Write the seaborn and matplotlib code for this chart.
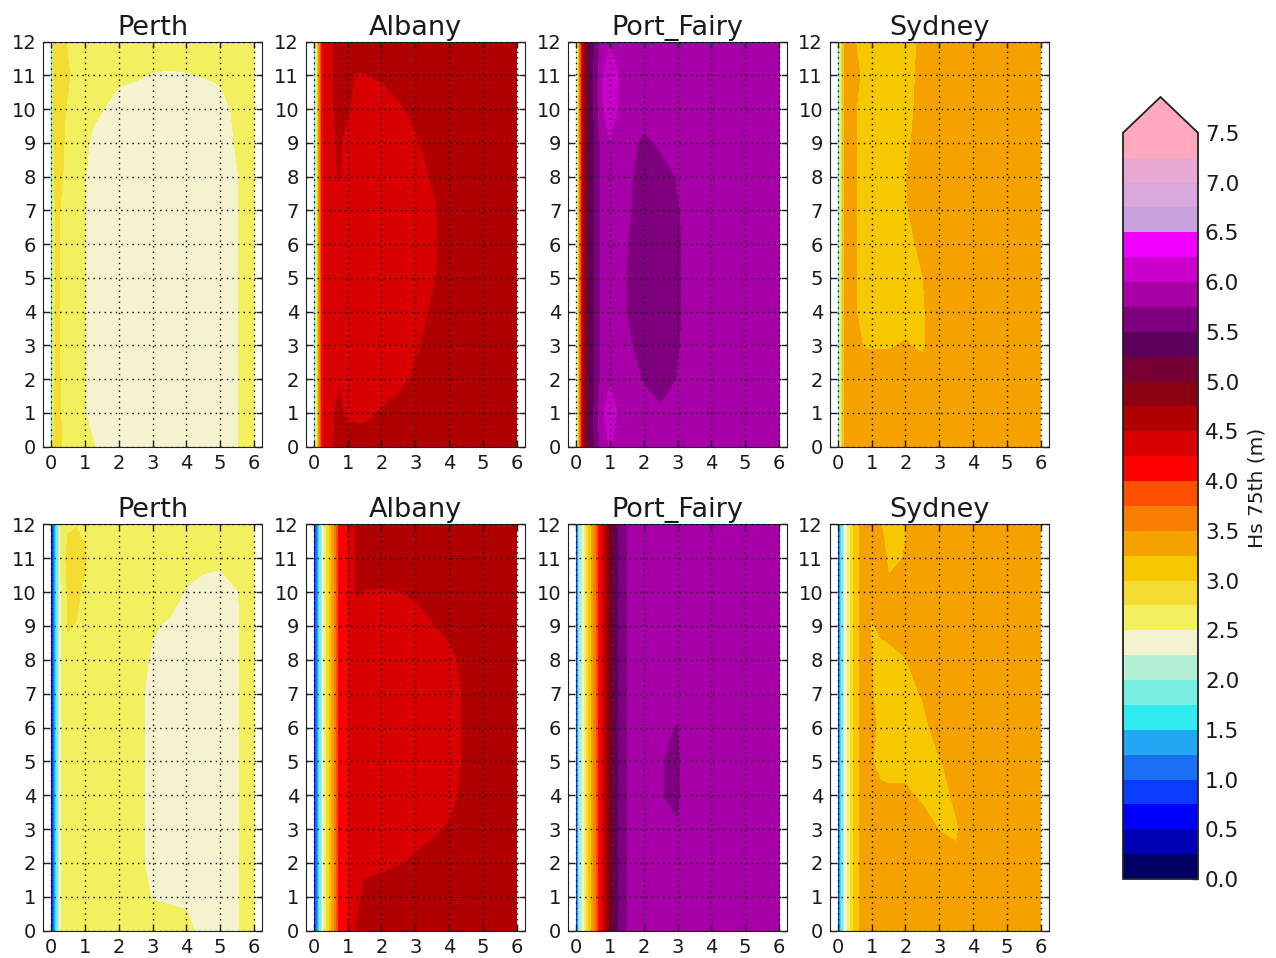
import numpy as np
import matplotlib
matplotlib.use("Agg")
import matplotlib.pyplot as plt
from matplotlib.colors import ListedColormap, Normalize
import seaborn as sns

# ---------------------------------------------------------------- data
SITES = ["Perth", "Albany", "Port_Fairy", "Sydney"]

# grid nodes: x (0-6) and y (0-12)
x_nodes = [0.0, 0.05, 0.1, 0.2, 0.3, 0.5, 0.75, 1.0, 1.25, 1.5,
           2.0, 2.5, 3.0, 3.5, 4.0, 4.5, 5.0, 5.5, 6.0]
y_nodes = list(range(13))

# Hs 75th percentile (m); one row per y node (y = 0 first), one value per x node
perth_top = [
    [1.4, 2.7, 2.78, 2.85, 2.76, 2.6, 2.6, 2.6, 2.52, 2.4, 2.4, 2.4, 2.4, 2.4, 2.4, 2.4, 2.4, 2.49, 2.6],
    [1.4, 2.7, 2.76, 2.82, 2.74, 2.6, 2.6, 2.51, 2.4, 2.4, 2.4, 2.4, 2.4, 2.4, 2.4, 2.4, 2.4, 2.49, 2.6],
    [1.4, 2.7, 2.74, 2.8, 2.72, 2.6, 2.6, 2.51, 2.4, 2.4, 2.4, 2.4, 2.4, 2.4, 2.4, 2.4, 2.4, 2.49, 2.6],
    [1.4, 2.7, 2.74, 2.8, 2.72, 2.6, 2.6, 2.51, 2.4, 2.4, 2.4, 2.4, 2.4, 2.4, 2.4, 2.4, 2.4, 2.49, 2.6],
    [1.4, 2.7, 2.74, 2.8, 2.72, 2.6, 2.6, 2.51, 2.4, 2.4, 2.4, 2.4, 2.4, 2.4, 2.4, 2.4, 2.4, 2.49, 2.6],
    [1.4, 2.7, 2.74, 2.8, 2.72, 2.6, 2.6, 2.51, 2.4, 2.4, 2.4, 2.4, 2.4, 2.4, 2.4, 2.4, 2.4, 2.49, 2.6],
    [1.4, 2.7, 2.73, 2.8, 2.72, 2.6, 2.6, 2.51, 2.4, 2.4, 2.4, 2.4, 2.4, 2.4, 2.4, 2.4, 2.4, 2.49, 2.6],
    [1.4, 2.7, 2.73, 2.8, 2.72, 2.6, 2.6, 2.51, 2.4, 2.4, 2.4, 2.4, 2.4, 2.4, 2.4, 2.4, 2.4, 2.49, 2.6],
    [1.4, 2.7, 2.76, 2.82, 2.78, 2.65, 2.6, 2.51, 2.4, 2.4, 2.4, 2.4, 2.4, 2.4, 2.4, 2.4, 2.4, 2.49, 2.6],
    [1.4, 2.7, 2.77, 2.84, 2.8, 2.68, 2.6, 2.55, 2.45, 2.4, 2.4, 2.4, 2.4, 2.4, 2.4, 2.4, 2.4, 2.52, 2.6],
    [1.4, 2.7, 2.78, 2.85, 2.8, 2.72, 2.6, 2.6, 2.55, 2.51, 2.4, 2.4, 2.4, 2.4, 2.4, 2.4, 2.42, 2.55, 2.6],
    [1.4, 2.7, 2.8, 2.88, 2.86, 2.78, 2.65, 2.6, 2.6, 2.6, 2.55, 2.52, 2.49, 2.48, 2.49, 2.505, 2.53, 2.58, 2.6],
    [1.4, 2.7, 2.78, 2.85, 2.84, 2.72, 2.62, 2.6, 2.6, 2.6, 2.6, 2.6, 2.6, 2.6, 2.6, 2.6, 2.6, 2.6, 2.6],
]

albany_top = [
    [1.2, 2.3, 3.0, 3.9, 4.3, 4.45, 4.6, 4.6, 4.6, 4.6, 4.6, 4.6, 4.6, 4.6, 4.6, 4.6, 4.6, 4.6, 4.6],
    [1.2, 2.3, 3.0, 3.9, 4.3, 4.45, 4.55, 4.46, 4.46, 4.45, 4.52, 4.6, 4.6, 4.6, 4.6, 4.6, 4.6, 4.6, 4.6],
    [1.2, 2.3, 3.0, 3.9, 4.3, 4.45, 4.48, 4.4, 4.4, 4.4, 4.4, 4.42, 4.55, 4.6, 4.6, 4.6, 4.6, 4.6, 4.6],
    [1.2, 2.3, 3.0, 3.9, 4.3, 4.45, 4.42, 4.4, 4.4, 4.4, 4.4, 4.4, 4.45, 4.6, 4.6, 4.6, 4.6, 4.6, 4.6],
    [1.2, 2.3, 3.0, 3.9, 4.3, 4.45, 4.42, 4.4, 4.4, 4.4, 4.4, 4.4, 4.4, 4.53, 4.6, 4.6, 4.6, 4.6, 4.6],
    [1.2, 2.3, 3.0, 3.9, 4.3, 4.45, 4.42, 4.4, 4.4, 4.4, 4.4, 4.4, 4.4, 4.47, 4.6, 4.6, 4.6, 4.6, 4.6],
    [1.2, 2.3, 3.0, 3.9, 4.3, 4.45, 4.42, 4.4, 4.4, 4.4, 4.4, 4.4, 4.4, 4.45, 4.6, 4.6, 4.6, 4.6, 4.6],
    [1.2, 2.3, 3.0, 3.9, 4.3, 4.45, 4.45, 4.4, 4.4, 4.4, 4.4, 4.4, 4.4, 4.45, 4.6, 4.6, 4.6, 4.6, 4.6],
    [1.2, 2.3, 3.0, 3.9, 4.3, 4.45, 4.51, 4.4, 4.4, 4.4, 4.4, 4.4, 4.4, 4.52, 4.6, 4.6, 4.6, 4.6, 4.6],
    [1.2, 2.3, 3.0, 3.9, 4.3, 4.45, 4.53, 4.42, 4.4, 4.4, 4.4, 4.4, 4.47, 4.58, 4.6, 4.6, 4.6, 4.6, 4.6],
    [1.2, 2.3, 3.0, 3.9, 4.3, 4.45, 4.58, 4.52, 4.42, 4.4, 4.42, 4.47, 4.55, 4.6, 4.6, 4.6, 4.6, 4.6, 4.6],
    [1.2, 2.3, 3.0, 3.9, 4.3, 4.45, 4.6, 4.55, 4.49, 4.49, 4.52, 4.58, 4.6, 4.6, 4.6, 4.6, 4.6, 4.6, 4.6],
    [1.2, 2.3, 3.0, 3.9, 4.3, 4.45, 4.6, 4.6, 4.6, 4.6, 4.6, 4.6, 4.6, 4.6, 4.6, 4.6, 4.6, 4.6, 4.6],
]

port_fairy_top = [
    [1.8, 2.9, 3.7, 4.6, 5.1, 5.45, 5.85, 6.02, 5.88, 5.9, 5.9, 5.9, 5.9, 5.9, 5.9, 5.9, 5.9, 5.9, 5.9],
    [1.8, 2.9, 3.7, 4.6, 5.1, 5.45, 5.9, 6.2, 5.95, 5.9, 5.85, 5.8, 5.82, 5.9, 5.9, 5.9, 5.9, 5.9, 5.9],
    [1.8, 2.9, 3.7, 4.6, 5.1, 5.45, 5.8, 5.95, 5.9, 5.86, 5.73, 5.6, 5.76, 5.9, 5.9, 5.9, 5.9, 5.9, 5.9],
    [1.8, 2.9, 3.7, 4.6, 5.1, 5.45, 5.8, 5.9, 5.9, 5.82, 5.6, 5.6, 5.72, 5.9, 5.9, 5.9, 5.9, 5.9, 5.9],
    [1.8, 2.9, 3.7, 4.6, 5.1, 5.45, 5.8, 5.9, 5.9, 5.74, 5.6, 5.6, 5.7, 5.9, 5.9, 5.9, 5.9, 5.9, 5.9],
    [1.8, 2.9, 3.7, 4.6, 5.1, 5.45, 5.8, 5.9, 5.9, 5.74, 5.6, 5.6, 5.7, 5.9, 5.9, 5.9, 5.9, 5.9, 5.9],
    [1.8, 2.9, 3.7, 4.6, 5.1, 5.45, 5.8, 5.9, 5.9, 5.76, 5.6, 5.6, 5.7, 5.9, 5.9, 5.9, 5.9, 5.9, 5.9],
    [1.8, 2.9, 3.7, 4.6, 5.1, 5.45, 5.8, 5.9, 5.9, 5.8, 5.6, 5.6, 5.72, 5.9, 5.9, 5.9, 5.9, 5.9, 5.9],
    [1.8, 2.9, 3.7, 4.6, 5.1, 5.45, 5.8, 5.9, 5.9, 5.82, 5.6, 5.6, 5.77, 5.9, 5.9, 5.9, 5.9, 5.9, 5.9],
    [1.8, 2.9, 3.7, 4.6, 5.1, 5.45, 5.8, 5.98, 5.9, 5.88, 5.68, 5.8, 5.9, 5.9, 5.9, 5.9, 5.9, 5.9, 5.9],
    [1.8, 2.9, 3.7, 4.6, 5.1, 5.45, 5.92, 6.2, 5.97, 5.9, 5.88, 5.9, 5.9, 5.9, 5.9, 5.9, 5.9, 5.9, 5.9],
    [1.8, 2.9, 3.7, 4.6, 5.1, 5.45, 5.95, 6.25, 6.0, 5.9, 5.9, 5.9, 5.9, 5.9, 5.9, 5.9, 5.9, 5.9, 5.9],
    [1.8, 2.9, 3.7, 4.6, 5.1, 5.45, 5.8, 5.96, 5.9, 5.9, 5.9, 5.9, 5.9, 5.9, 5.9, 5.9, 5.9, 5.9, 5.9],
]

sydney_top = [
    [1.3, 2.3, 2.9, 3.3, 3.38, 3.4, 3.4, 3.4, 3.4, 3.4, 3.4, 3.4, 3.4, 3.4, 3.4, 3.4, 3.4, 3.4, 3.4],
    [1.3, 2.3, 2.9, 3.3, 3.38, 3.4, 3.4, 3.4, 3.4, 3.4, 3.4, 3.4, 3.4, 3.4, 3.4, 3.4, 3.4, 3.4, 3.4],
    [1.3, 2.3, 2.9, 3.3, 3.38, 3.38, 3.38, 3.38, 3.38, 3.38, 3.38, 3.38, 3.4, 3.4, 3.4, 3.4, 3.4, 3.4, 3.4],
    [1.3, 2.3, 2.9, 3.3, 3.38, 3.35, 3.24, 3.23, 3.23, 3.23, 3.27, 3.21, 3.4, 3.4, 3.4, 3.4, 3.4, 3.4, 3.4],
    [1.3, 2.3, 2.9, 3.3, 3.38, 3.28, 3.15, 3.15, 3.15, 3.15, 3.15, 3.22, 3.4, 3.4, 3.4, 3.4, 3.4, 3.4, 3.4],
    [1.3, 2.3, 2.9, 3.3, 3.38, 3.27, 3.15, 3.15, 3.15, 3.15, 3.15, 3.24, 3.4, 3.4, 3.4, 3.4, 3.4, 3.4, 3.4],
    [1.3, 2.3, 2.9, 3.3, 3.38, 3.27, 3.15, 3.15, 3.15, 3.15, 3.15, 3.32, 3.4, 3.4, 3.4, 3.4, 3.4, 3.4, 3.4],
    [1.3, 2.3, 2.9, 3.3, 3.38, 3.27, 3.15, 3.15, 3.15, 3.15, 3.22, 3.4, 3.4, 3.4, 3.4, 3.4, 3.4, 3.4, 3.4],
    [1.3, 2.3, 2.9, 3.3, 3.38, 3.27, 3.15, 3.15, 3.15, 3.15, 3.24, 3.4, 3.4, 3.4, 3.4, 3.4, 3.4, 3.4, 3.4],
    [1.3, 2.3, 2.9, 3.3, 3.38, 3.27, 3.15, 3.15, 3.15, 3.15, 3.2, 3.35, 3.4, 3.4, 3.4, 3.4, 3.4, 3.4, 3.4],
    [1.3, 2.3, 2.9, 3.3, 3.38, 3.27, 3.15, 3.15, 3.15, 3.15, 3.15, 3.35, 3.4, 3.4, 3.4, 3.4, 3.4, 3.4, 3.4],
    [1.3, 2.3, 2.9, 3.3, 3.38, 3.3, 3.22, 3.15, 3.15, 3.15, 3.15, 3.32, 3.4, 3.4, 3.4, 3.4, 3.4, 3.4, 3.4],
    [1.3, 2.3, 2.9, 3.3, 3.38, 3.26, 3.15, 3.15, 3.15, 3.15, 3.15, 3.3, 3.4, 3.4, 3.4, 3.4, 3.4, 3.4, 3.4],
]

perth_bottom = [
    [0.5, 1.0, 1.35, 1.95, 2.52, 2.6, 2.6, 2.6, 2.6, 2.6, 2.6, 2.6, 2.6, 2.6, 2.58, 2.4, 2.4, 2.48, 2.6],
    [0.5, 1.0, 1.35, 1.95, 2.52, 2.6, 2.6, 2.6, 2.6, 2.6, 2.6, 2.6, 2.49, 2.47, 2.45, 2.4, 2.4, 2.48, 2.6],
    [0.5, 1.0, 1.35, 1.95, 2.52, 2.6, 2.6, 2.6, 2.6, 2.6, 2.6, 2.6, 2.4, 2.4, 2.4, 2.4, 2.4, 2.48, 2.6],
    [0.5, 1.0, 1.35, 1.95, 2.52, 2.6, 2.6, 2.6, 2.6, 2.6, 2.6, 2.6, 2.4, 2.4, 2.4, 2.4, 2.4, 2.48, 2.6],
    [0.5, 1.0, 1.35, 1.95, 2.52, 2.6, 2.6, 2.6, 2.6, 2.6, 2.6, 2.6, 2.4, 2.4, 2.4, 2.4, 2.4, 2.48, 2.6],
    [0.5, 1.0, 1.35, 1.95, 2.52, 2.6, 2.6, 2.6, 2.6, 2.6, 2.6, 2.6, 2.4, 2.4, 2.4, 2.4, 2.4, 2.48, 2.6],
    [0.5, 1.0, 1.35, 1.95, 2.52, 2.6, 2.6, 2.6, 2.6, 2.6, 2.6, 2.6, 2.4, 2.4, 2.4, 2.4, 2.4, 2.48, 2.6],
    [0.5, 1.0, 1.35, 1.95, 2.52, 2.6, 2.6, 2.6, 2.6, 2.6, 2.6, 2.6, 2.4, 2.4, 2.4, 2.4, 2.4, 2.48, 2.6],
    [0.5, 1.0, 1.35, 1.95, 2.52, 2.7, 2.68, 2.6, 2.6, 2.6, 2.6, 2.6, 2.47, 2.4, 2.4, 2.4, 2.4, 2.48, 2.6],
    [0.5, 1.0, 1.35, 1.95, 2.52, 2.76, 2.74, 2.62, 2.6, 2.6, 2.6, 2.6, 2.52, 2.47, 2.4, 2.4, 2.4, 2.48, 2.6],
    [0.5, 1.0, 1.35, 1.95, 2.52, 2.78, 2.8, 2.7, 2.6, 2.6, 2.6, 2.6, 2.6, 2.6, 2.48, 2.42, 2.4, 2.49, 2.6],
    [0.5, 1.0, 1.35, 1.95, 2.6, 2.82, 2.85, 2.78, 2.6, 2.6, 2.6, 2.6, 2.6, 2.6, 2.6, 2.57, 2.55, 2.6, 2.6],
    [0.5, 1.0, 1.35, 1.95, 2.55, 2.72, 2.74, 2.7, 2.6, 2.6, 2.6, 2.6, 2.6, 2.6, 2.6, 2.6, 2.6, 2.6, 2.6],
]

albany_bottom = [
    [0.5, 1.0, 1.4, 2.0, 2.55, 3.2, 4.05, 4.24, 4.52, 4.6, 4.6, 4.6, 4.6, 4.6, 4.6, 4.6, 4.6, 4.6, 4.6],
    [0.5, 1.0, 1.4, 2.0, 2.55, 3.2, 4.05, 4.24, 4.4, 4.56, 4.57, 4.58, 4.6, 4.6, 4.6, 4.6, 4.6, 4.6, 4.6],
    [0.5, 1.0, 1.4, 2.0, 2.55, 3.2, 4.05, 4.24, 4.4, 4.44, 4.47, 4.49, 4.52, 4.58, 4.6, 4.6, 4.6, 4.6, 4.6],
    [0.5, 1.0, 1.4, 2.0, 2.55, 3.2, 4.05, 4.24, 4.4, 4.4, 4.4, 4.42, 4.45, 4.46, 4.52, 4.6, 4.6, 4.6, 4.6],
    [0.5, 1.0, 1.4, 2.0, 2.55, 3.2, 4.05, 4.24, 4.4, 4.4, 4.4, 4.4, 4.4, 4.42, 4.44, 4.55, 4.6, 4.6, 4.6],
    [0.5, 1.0, 1.4, 2.0, 2.55, 3.2, 4.05, 4.24, 4.4, 4.4, 4.4, 4.4, 4.4, 4.4, 4.42, 4.53, 4.6, 4.6, 4.6],
    [0.5, 1.0, 1.4, 2.0, 2.55, 3.2, 4.05, 4.24, 4.4, 4.4, 4.4, 4.4, 4.4, 4.4, 4.42, 4.53, 4.6, 4.6, 4.6],
    [0.5, 1.0, 1.4, 2.0, 2.55, 3.2, 4.05, 4.24, 4.4, 4.4, 4.4, 4.4, 4.4, 4.4, 4.42, 4.53, 4.6, 4.6, 4.6],
    [0.5, 1.0, 1.4, 2.0, 2.55, 3.2, 4.05, 4.24, 4.4, 4.4, 4.4, 4.4, 4.4, 4.42, 4.45, 4.55, 4.6, 4.6, 4.6],
    [0.5, 1.0, 1.4, 2.0, 2.55, 3.2, 4.05, 4.24, 4.4, 4.4, 4.4, 4.42, 4.44, 4.49, 4.54, 4.6, 4.6, 4.6, 4.6],
    [0.5, 1.0, 1.4, 2.0, 2.55, 3.2, 4.05, 4.24, 4.52, 4.49, 4.49, 4.495, 4.52, 4.56, 4.6, 4.6, 4.6, 4.6, 4.6],
    [0.5, 1.0, 1.4, 2.0, 2.55, 3.2, 4.05, 4.24, 4.52, 4.58, 4.58, 4.6, 4.6, 4.6, 4.6, 4.6, 4.6, 4.6, 4.6],
    [0.5, 1.0, 1.4, 2.0, 2.55, 3.2, 4.05, 4.24, 4.52, 4.6, 4.6, 4.6, 4.6, 4.6, 4.6, 4.6, 4.6, 4.6, 4.6],
]

port_fairy_bottom = [
    [0.8, 1.6, 2.0, 2.4, 2.78, 3.5, 4.3, 5.0, 5.5, 5.74, 5.9, 5.9, 5.9, 5.9, 5.9, 5.9, 5.9, 5.9, 5.9],
    [0.8, 1.6, 2.0, 2.4, 2.78, 3.5, 4.3, 5.0, 5.5, 5.74, 5.9, 5.9, 5.9, 5.9, 5.9, 5.9, 5.9, 5.9, 5.9],
    [0.8, 1.6, 2.0, 2.4, 2.78, 3.5, 4.3, 5.0, 5.5, 5.74, 5.9, 5.9, 5.9, 5.9, 5.9, 5.9, 5.9, 5.9, 5.9],
    [0.8, 1.6, 2.0, 2.4, 2.78, 3.5, 4.3, 5.0, 5.5, 5.74, 5.9, 5.8, 5.76, 5.9, 5.9, 5.9, 5.9, 5.9, 5.9],
    [0.8, 1.6, 2.0, 2.4, 2.78, 3.5, 4.3, 5.0, 5.5, 5.74, 5.9, 5.755, 5.72, 5.9, 5.9, 5.9, 5.9, 5.9, 5.9],
    [0.8, 1.6, 2.0, 2.4, 2.78, 3.5, 4.3, 5.0, 5.5, 5.74, 5.9, 5.755, 5.72, 5.9, 5.9, 5.9, 5.9, 5.9, 5.9],
    [0.8, 1.6, 2.0, 2.4, 2.78, 3.5, 4.3, 5.0, 5.5, 5.74, 5.9, 5.78, 5.74, 5.9, 5.9, 5.9, 5.9, 5.9, 5.9],
    [0.8, 1.6, 2.0, 2.4, 2.78, 3.5, 4.3, 5.0, 5.5, 5.74, 5.9, 5.9, 5.8, 5.9, 5.9, 5.9, 5.9, 5.9, 5.9],
    [0.8, 1.6, 2.0, 2.4, 2.78, 3.5, 4.3, 5.0, 5.5, 5.74, 5.9, 5.9, 5.9, 5.9, 5.9, 5.9, 5.9, 5.9, 5.9],
    [0.8, 1.6, 2.0, 2.4, 2.78, 3.5, 4.3, 5.0, 5.5, 5.74, 5.9, 5.9, 5.9, 5.9, 5.9, 5.9, 5.9, 5.9, 5.9],
    [0.8, 1.6, 2.0, 2.4, 2.78, 3.5, 4.3, 5.0, 5.5, 5.74, 5.9, 5.9, 5.9, 5.9, 5.9, 5.9, 5.9, 5.9, 5.9],
    [0.8, 1.6, 2.0, 2.4, 2.78, 3.5, 4.3, 5.0, 5.5, 5.74, 5.9, 5.9, 5.9, 5.9, 5.9, 5.9, 5.9, 5.9, 5.9],
    [0.8, 1.6, 2.0, 2.4, 2.78, 3.5, 4.3, 5.0, 5.5, 5.74, 5.9, 5.9, 5.9, 5.9, 5.9, 5.9, 5.9, 5.9, 5.9],
]

sydney_bottom = [
    [0.6, 1.3, 1.75, 2.3, 2.62, 3.1, 3.35, 3.4, 3.4, 3.4, 3.4, 3.4, 3.4, 3.4, 3.4, 3.4, 3.4, 3.4, 3.4],
    [0.6, 1.3, 1.75, 2.3, 2.62, 3.1, 3.35, 3.4, 3.4, 3.4, 3.4, 3.4, 3.4, 3.4, 3.4, 3.4, 3.4, 3.4, 3.4],
    [0.6, 1.3, 1.75, 2.3, 2.62, 3.1, 3.35, 3.4, 3.4, 3.4, 3.4, 3.4, 3.4, 3.3, 3.4, 3.4, 3.4, 3.4, 3.4],
    [0.6, 1.3, 1.75, 2.3, 2.62, 3.1, 3.35, 3.4, 3.4, 3.4, 3.4, 3.38, 3.24, 3.22, 3.4, 3.4, 3.4, 3.4, 3.4],
    [0.6, 1.3, 1.75, 2.3, 2.62, 3.1, 3.35, 3.4, 3.33, 3.3, 3.3, 3.2, 3.15, 3.3, 3.4, 3.4, 3.4, 3.4, 3.4],
    [0.6, 1.3, 1.75, 2.3, 2.62, 3.1, 3.35, 3.27, 3.15, 3.15, 3.15, 3.15, 3.22, 3.4, 3.4, 3.4, 3.4, 3.4, 3.4],
    [0.6, 1.3, 1.75, 2.3, 2.62, 3.1, 3.35, 3.3, 3.2, 3.15, 3.15, 3.15, 3.4, 3.4, 3.4, 3.4, 3.4, 3.4, 3.4],
    [0.6, 1.3, 1.75, 2.3, 2.62, 3.1, 3.35, 3.27, 3.15, 3.15, 3.15, 3.27, 3.4, 3.4, 3.4, 3.4, 3.4, 3.4, 3.4],
    [0.6, 1.3, 1.75, 2.3, 2.62, 3.1, 3.35, 3.26, 3.15, 3.15, 3.24, 3.4, 3.4, 3.4, 3.4, 3.4, 3.4, 3.4, 3.4],
    [0.6, 1.3, 1.75, 2.3, 2.62, 3.1, 3.35, 3.22, 3.3, 3.35, 3.4, 3.4, 3.4, 3.4, 3.4, 3.4, 3.4, 3.4, 3.4],
    [0.6, 1.3, 1.75, 2.3, 2.62, 3.1, 3.35, 3.35, 3.4, 3.3, 3.3, 3.4, 3.4, 3.4, 3.4, 3.4, 3.4, 3.4, 3.4],
    [0.6, 1.3, 1.75, 2.3, 2.62, 3.1, 3.35, 3.35, 3.4, 3.2, 3.26, 3.4, 3.4, 3.4, 3.4, 3.4, 3.4, 3.4, 3.4],
    [0.6, 1.3, 1.75, 2.3, 2.62, 3.1, 3.35, 3.35, 3.27, 3.15, 3.24, 3.4, 3.4, 3.4, 3.4, 3.4, 3.4, 3.4, 3.4],
]

top_row = [perth_top, albany_top, port_fairy_top, sydney_top]
bottom_row = [perth_bottom, albany_bottom, port_fairy_bottom, sydney_bottom]

# colour classes (0.25 m steps, 0 - 7.5 m) and the "above 7.5" colour
level_edges = np.arange(0.0, 7.5001, 0.25)
band_colors = [
    "#000064", "#0000b4", "#0000ff", "#0a3cff", "#1a70f5", "#22a8f2",
    "#30ecf2", "#78eee0", "#b4f0d6", "#f5f2d0", "#f3f060", "#f5dc32",
    "#f5c800", "#f5a200", "#f77e00", "#ff5000", "#ff0000", "#d80000",
    "#b00000", "#8c0014", "#760032", "#5c005c", "#7e007e", "#a800a8",
    "#cc00cc", "#f000ff", "#c8a2dc", "#d8a8dc", "#e8a8d4", "#ffa8c0",
]
over_color = "#ffa8c0"
cbar_ticks = np.arange(0.0, 7.5001, 0.5)

# ---------------------------------------------------------------- style
sns.set_style("ticks", {
    "axes.edgecolor": "#222222",
    "axes.linewidth": 1.3,
    "xtick.direction": "in",
    "ytick.direction": "in",
    "xtick.top": True,
    "ytick.right": True,
    "xtick.color": "#222222",
    "ytick.color": "#222222",
    "axes.grid": False,
})
plt.rcParams["font.family"] = ["DejaVu Sans"]
plt.rcParams["xtick.major.size"] = 4
plt.rcParams["ytick.major.size"] = 4
plt.rcParams["xtick.major.width"] = 1.0
plt.rcParams["ytick.major.width"] = 1.0

cmap = ListedColormap(sns.color_palette(band_colors, n_colors=len(band_colors)))
cmap.set_over(over_color)
norm = Normalize(vmin=level_edges[0], vmax=level_edges[-1])

fig = plt.figure(figsize=(12.76, 9.58), dpi=100)

W_PX, H_PX = 1276.0, 958.0
col_left_px = [43.3, 306.0, 568.3, 830.0]
ax_w_px = 218.5
rows_px = [(41.7, 446.7), (524.3, 930.7)]

xg, yg = np.meshgrid(np.asarray(x_nodes), np.asarray(y_nodes, dtype=float))

cs_ref = None
for r, (panels, (top_px, bot_px)) in enumerate(zip([top_row, bottom_row], rows_px)):
    for c, (site, table) in enumerate(zip(SITES, panels)):
        ax = fig.add_axes([col_left_px[c] / W_PX, 1 - bot_px / H_PX,
                           ax_w_px / W_PX, (bot_px - top_px) / H_PX])
        z = np.asarray(table, dtype=float)
        cs = ax.contourf(xg, yg, z, levels=level_edges, cmap=cmap, norm=norm,
                         extend="max", zorder=1)
        if cs_ref is None:
            cs_ref = cs
        ax.set_xlim(-0.23, 6.23)
        ax.set_ylim(0, 12)
        ax.set_xticks(range(0, 7))
        ax.set_yticks(range(0, 13))
        ax.grid(True, color="black", linestyle=(0, (1, 3)), linewidth=1.0,
                zorder=2)
        ax.set_axisbelow(False)
        ax.tick_params(labelsize=14, pad=5, colors="#222222",
                       labelcolor="#1a1a1a")
        ax.set_title(site, fontsize=19.5, pad=5, color="#1a1a1a")

# colour bar with the triangular "above" extension
cb_left, cb_right = 1123.0, 1198.0
cb_tip, cb_bottom = 97.0, 879.0
cax = fig.add_axes([cb_left / W_PX, 1 - cb_bottom / H_PX,
                    (cb_right - cb_left) / W_PX, (cb_bottom - cb_tip) / H_PX])
cbar = fig.colorbar(cs_ref, cax=cax, ticks=cbar_ticks, extend="max",
                    extendfrac=0.048, drawedges=False)
cbar.ax.set_yticklabels([f"{t:.1f}" for t in cbar_ticks])
cbar.ax.tick_params(labelsize=15.5, direction="in", length=4, pad=5,
                    colors="#222222", labelcolor="#1a1a1a", right=True, left=False)
cbar.outline.set_edgecolor("#222222")
cbar.outline.set_linewidth(1.3)
fig.text(1257 / W_PX, 1 - 488 / H_PX, "Hs 75th (m)", rotation=90,
         ha="center", va="center", fontsize=14.5, color="#1a1a1a")

fig.savefig("out.png", dpi=100)
